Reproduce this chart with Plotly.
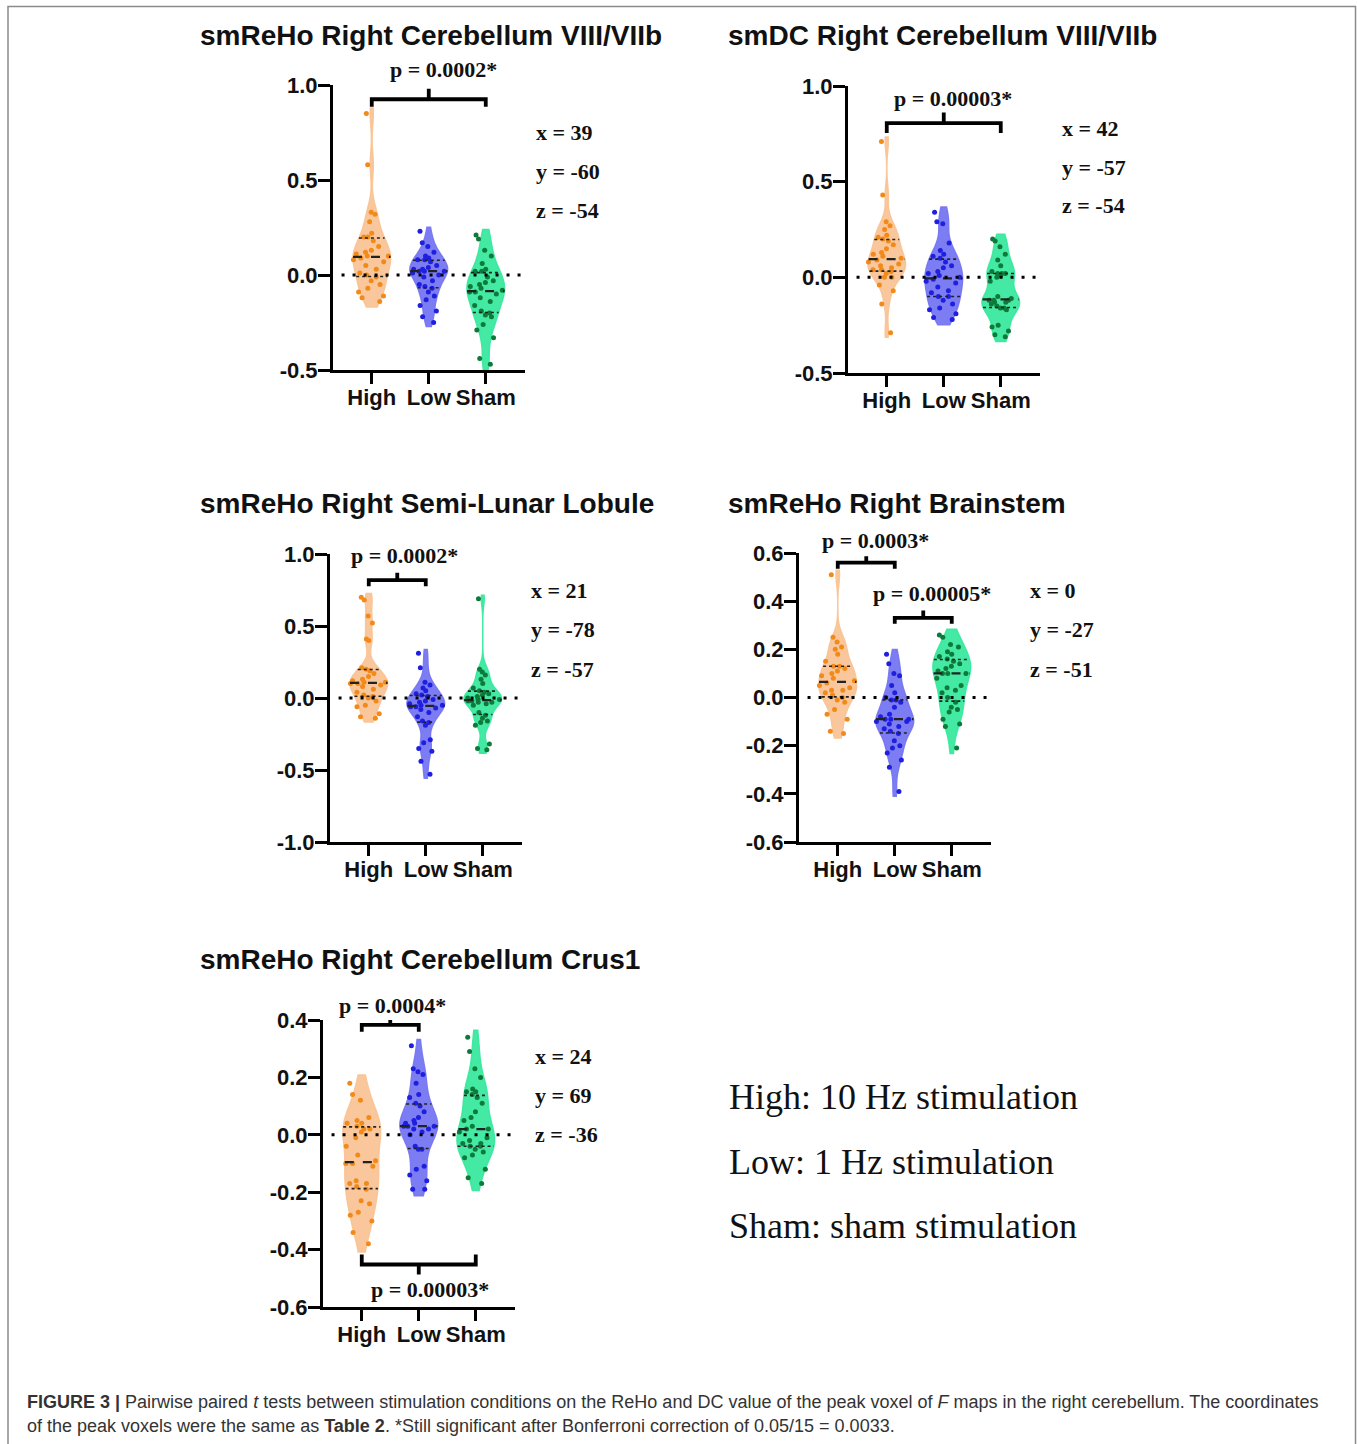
import numpy as np
import plotly.graph_objects as go

W, H = 1357, 1444

groups = ["High", "Low", "Sham"]

# ---------------- data ----------------
p1_high = [0.85, 0.58, 0.33, 0.32, 0.28, 0.22, 0.20, 0.20, 0.18, 0.15, 0.13, 0.12, 0.11, 0.10, 0.10,
           0.09, 0.08, 0.07, 0.05, 0.03, 0.01, 0.00, -0.01, -0.03, -0.05, -0.07, -0.09, -0.11, -0.12, -0.14]
p1_low = [0.23, 0.17, 0.15, 0.12, 0.10, 0.09, 0.08, 0.08, 0.07, 0.05, 0.04, 0.03, 0.03, 0.02, 0.02,
          0.02, 0.01, 0.00, -0.01, -0.03, -0.05, -0.06, -0.07, -0.09, -0.11, -0.13, -0.16, -0.19, -0.22, -0.25]
p1_sham = [0.21, 0.19, 0.13, 0.10, 0.06, 0.03, 0.02, 0.02, -0.01, -0.03, -0.04, -0.05, -0.06, -0.07, -0.08,
           -0.09, -0.09, -0.10, -0.12, -0.14, -0.16, -0.19, -0.20, -0.21, -0.22, -0.26, -0.29, -0.33, -0.44, -0.47]

p2_high = [0.71, 0.43, 0.29, 0.27, 0.25, 0.22, 0.21, 0.20, 0.19, 0.17, 0.15, 0.13, 0.12, 0.11, 0.10,
           0.09, 0.08, 0.07, 0.06, 0.05, 0.04, 0.04, 0.03, 0.02, 0.00, 0.00, -0.04, -0.07, -0.14, -0.29]
p2_low = [0.34, 0.29, 0.28, 0.18, 0.14, 0.12, 0.11, 0.10, 0.08, 0.06, 0.05, 0.03, 0.02, 0.01, 0.00,
          -0.01, -0.02, -0.03, -0.05, -0.07, -0.08, -0.10, -0.10, -0.12, -0.14, -0.16, -0.17, -0.19, -0.21, -0.22]
p2_sham = [0.20, 0.19, 0.16, 0.12, 0.09, 0.06, 0.03, 0.02, 0.02, 0.02, 0.01, 0.00, -0.02, -0.10, -0.11,
           -0.12, -0.12, -0.12, -0.13, -0.13, -0.14, -0.15, -0.16, -0.16, -0.17, -0.25, -0.26, -0.28, -0.30, -0.31]

p3_high = [0.70, 0.68, 0.57, 0.52, 0.41, 0.40, 0.21, 0.20, 0.19, 0.17, 0.15, 0.13, 0.12, 0.11, 0.11,
           0.10, 0.10, 0.09, 0.08, 0.06, 0.04, 0.02, 0.01, 0.00, -0.02, -0.05, -0.06, -0.11, -0.13, -0.14]
p3_low = [0.31, 0.21, 0.11, 0.09, 0.07, 0.05, 0.03, 0.02, 0.01, -0.01, -0.02, -0.03, -0.04, -0.05, -0.05,
          -0.06, -0.06, -0.07, -0.08, -0.10, -0.13, -0.16, -0.17, -0.19, -0.29, -0.31, -0.35, -0.37, -0.44, -0.53]
p3_sham = [0.69, 0.20, 0.18, 0.16, 0.13, 0.10, 0.07, 0.05, 0.04, 0.03, 0.02, 0.01, 0.00, -0.01, -0.01,
           -0.02, -0.02, -0.03, -0.03, -0.04, -0.05, -0.10, -0.12, -0.14, -0.16, -0.17, -0.19, -0.32, -0.35, -0.36]

p4_high = [0.51, 0.25, 0.23, 0.21, 0.20, 0.18, 0.15, 0.13, 0.13, 0.12, 0.11, 0.10, 0.09, 0.08, 0.07,
           0.06, 0.05, 0.04, 0.03, 0.03, 0.02, 0.01, 0.00, -0.01, -0.02, -0.05, -0.07, -0.09, -0.14, -0.15]
p4_low = [0.18, 0.14, 0.10, 0.09, 0.05, 0.02, 0.00, -0.01, -0.01, -0.02, -0.04, -0.07, -0.08, -0.09, -0.09,
          -0.09, -0.10, -0.10, -0.11, -0.12, -0.13, -0.14, -0.15, -0.18, -0.20, -0.21, -0.23, -0.26, -0.29, -0.39]
p4_sham = [0.26, 0.25, 0.22, 0.21, 0.19, 0.18, 0.17, 0.16, 0.15, 0.14, 0.13, 0.12, 0.11, 0.10, 0.10,
           0.10, 0.08, 0.05, 0.04, 0.03, 0.02, 0.00, -0.02, -0.04, -0.05, -0.06, -0.09, -0.11, -0.12, -0.21]

p5_high = [0.18, 0.14, 0.12, 0.06, 0.05, 0.04, 0.04, 0.03, 0.02, 0.02, 0.01, -0.01, -0.04, -0.07, -0.09,
           -0.10, -0.10, -0.11, -0.16, -0.17, -0.17, -0.18, -0.19, -0.23, -0.24, -0.27, -0.28, -0.30, -0.34, -0.38]
p5_low = [0.31, 0.23, 0.22, 0.21, 0.18, 0.14, 0.13, 0.11, 0.10, 0.08, 0.06, 0.05, 0.04, 0.04, 0.03,
          0.03, 0.03, 0.02, 0.02, 0.01, 0.00, -0.04, -0.05, -0.05, -0.11, -0.12, -0.14, -0.16, -0.19, -0.19]
p5_sham = [0.34, 0.29, 0.23, 0.20, 0.16, 0.15, 0.15, 0.14, 0.13, 0.11, 0.08, 0.06, 0.05, 0.03, 0.02,
           0.02, 0.01, -0.01, -0.02, -0.03, -0.03, -0.04, -0.04, -0.05, -0.06, -0.07, -0.08, -0.12, -0.15, -0.17]

titles = ["smReHo Right Cerebellum VIII/VIIb", "smDC Right Cerebellum VIII/VIIb",
          "smReHo Right Semi-Lunar Lobule", "smReHo Right Brainstem", "smReHo Right Cerebellum Crus1"]
panel_data = [[p1_high, p1_low, p1_sham], [p2_high, p2_low, p2_sham], [p3_high, p3_low, p3_sham],
              [p4_high, p4_low, p4_sham], [p5_high, p5_low, p5_sham]]
y_ranges = [[-0.5, 1.0], [-0.5, 1.0], [-1.0, 1.0], [-0.6, 0.6], [-0.6, 0.4]]
y_ticks = [[-0.5, 0.0, 0.5, 1.0], [-0.5, 0.0, 0.5, 1.0], [-1.0, -0.5, 0.0, 0.5, 1.0],
           [-0.6, -0.4, -0.2, 0.0, 0.2, 0.4, 0.6], [-0.6, -0.4, -0.2, 0.0, 0.2, 0.4]]
coords = [["x = 39", "y = -60", "z = -54"], ["x = 42", "y = -57", "z = -54"],
          ["x = 21", "y = -78", "z = -57"], ["x = 0", "y = -27", "z = -51"],
          ["x = 24", "y = 69", "z = -36"]]
# comparisons: (group a, group b, label)
comparisons = [[(0, 2, "p = 0.0002*")], [(0, 2, "p = 0.00003*")], [(0, 1, "p = 0.0002*")],
               [(0, 1, "p = 0.0003*"), (1, 2, "p = 0.00005*")],
               [(0, 1, "p = 0.0004*"), (0, 2, "p = 0.00003*")]]
legend_lines = ["High: 10 Hz stimulation", "Low: 1 Hz stimulation", "Sham: sham stimulation"]

# ---------------- layout / styling ----------------
# pixel boxes: (left, top, bottom) of each plot area
boxes = [(333, 85, 370), (848, 86, 373), (330, 554, 842), (799, 553, 842), (323, 1020, 1307)]
CAT_PX = 57.0
XR = [-0.68, 2.68]
title_pos = [(198, 36), (726, 36), (198, 503), (726, 503), (198, 959)]
coord_pos = [(534, 132), (1060, 128), (529, 591), (1028, 591), (533, 1056)]
COORD_STEP = 39
# bracket geometry per comparison: (bar y, end y, nub y, label x, label y) in data units
bracket_geo = [[(0.925, 0.886, 0.98, 1.26, 1.08)],
               [(0.806, 0.754, 0.862, 1.165, 0.937)],
               [(0.818, 0.776, 0.869, 0.63, 0.993)],
               [(0.56, 0.535, 0.586, 0.66, 0.653), (0.331, 0.306, 0.361, 1.66, 0.431)],
               [(0.383, 0.359, 0.402, 0.54, 0.452), (-0.452, -0.417, -0.487, 1.19, -0.539)]]

FILL = ["rgba(249,196,150,0.95)", "rgba(118,118,242,0.95)", "rgba(58,232,158,0.95)"]
PT = ["#F28A1A", "#1F1FE0", "#0D7A3A"]
VW = 0.66
JIT = 1.0
BW_FACTOR = 0.8
SPAN_PAD = 0.45  # violin tails extend this many bandwidths past the extreme points

SANS = "Liberation Sans, Arial, sans-serif"
SERIF = "Liberation Serif, Times New Roman, serif"


def silverman(vals):
    v = np.asarray(vals, float)
    q1, q3 = np.percentile(v, [25, 75])
    ssd = v.std(ddof=1)
    return BW_FACTOR * 1.059 * min(ssd, (q3 - q1) / 1.349) * len(v) ** -0.2


def kde(vals, bw, t):
    v = np.asarray(vals, float)[:, None]
    t = np.atleast_1d(np.asarray(t, float))[None, :]
    return np.exp(-0.5 * ((t - v) / bw) ** 2).sum(0) / (len(vals) * bw * np.sqrt(2 * np.pi))


def max_kde(vals, bw, span):
    lo, hi = span
    n = int(np.ceil((hi - lo) / (bw / 3)))
    grid = np.linspace(lo, hi, n + 1)
    return kde(vals, bw, grid).max()


fig = go.Figure()
layout = dict(width=W, height=H, margin=dict(l=0, r=0, t=0, b=0, pad=0, autoexpand=False),
              paper_bgcolor="white", plot_bgcolor="white", showlegend=False,
              violinmode="overlay")
annotations = []
shapes = []

for pi in range(5):
    sfx = "" if pi == 0 else str(pi + 1)
    xr, yr = "x" + sfx, "y" + sfx
    left, top, bottom = boxes[pi]
    right = left + (XR[1] - XR[0]) * CAT_PX
    y0, y1 = y_ranges[pi]
    layout["xaxis" + sfx] = dict(
        domain=[left / W, right / W], range=XR, anchor=yr, type="linear", automargin=False,
        tickvals=[0, 1, 2], ticktext=groups, showgrid=False, zeroline=False,
        showline=True, linecolor="black", linewidth=3, ticks="outside", ticklen=11,
        tickwidth=3, tickcolor="black", ticklabelstandoff=-5,
        tickfont=dict(family=SANS, size=22, color="#111", weight="bold"), fixedrange=True)
    layout["yaxis" + sfx] = dict(
        domain=[1 - bottom / H, 1 - top / H], range=y_ranges[pi], anchor=xr, automargin=False,
        tickvals=y_ticks[pi], ticktext=[f"{v:.1f}" for v in y_ticks[pi]],
        showgrid=False, zeroline=False, showline=True, linecolor="black", linewidth=3,
        ticks="outside", ticklen=12, tickwidth=3, tickcolor="black", ticklabelstandoff=-4,
        tickfont=dict(family=SANS, size=22, color="#111", weight="bold"), fixedrange=True)

    # zero reference line
    shapes.append(dict(type="line", xref=xr, yref=yr, x0=XR[0] + 0.15, x1=XR[1], y0=0, y1=0,
                       line=dict(color="black", width=3, dash="3px,8px"), layer="above"))

    for gi, vals in enumerate(panel_data[pi]):
        bw = silverman(vals)
        span = [min(vals) - SPAN_PAD * bw, max(vals) + SPAN_PAD * bw]
        fig.add_trace(go.Violin(
            y=vals, x0=gi, xaxis=xr, yaxis=yr, width=VW, scalemode="width", spanmode="manual",
            span=span, bandwidth=bw, points="all", pointpos=0, jitter=JIT,
            fillcolor=FILL[gi], line=dict(color=FILL[gi], width=1.5),
            marker=dict(size=5, color=PT[gi], line=dict(width=0)),
            box_visible=False, meanline_visible=False, hoverinfo="skip", name=groups[gi]))
        mk = max_kde(vals, bw, span)
        q1, med, q3 = np.percentile(vals, [25, 50, 75])
        for q, dash, lw in [(q1, "dot", 1.6), (med, "dash", 2.2), (q3, "dot", 1.6)]:
            hw = kde(vals, bw, q)[0] / mk * VW / 2
            fig.add_trace(go.Scatter(x=[gi - hw, gi + hw], y=[q, q], xaxis=xr, yaxis=yr,
                                     mode="lines", line=dict(color="#222", width=lw, dash=dash),
                                     hoverinfo="skip"))

    for (a, b, label), (ybar, yend, ynub, lx, ly) in zip(comparisons[pi], bracket_geo[pi]):
        xm = (a + b) / 2
        fig.add_trace(go.Scatter(x=[a, a, xm, xm, xm, b, b], y=[yend, ybar, ybar, ynub, ybar, ybar, yend],
                                 xaxis=xr, yaxis=yr, mode="lines",
                                 line=dict(color="black", width=3.8), hoverinfo="skip"))
        annotations.append(dict(x=lx, y=(ly - y0) / (y1 - y0), xref=xr, yref=yr + " domain",
                                xanchor="center", yanchor="middle",
                                text=label, showarrow=False,
                                font=dict(family=SERIF, size=22, color="#111", weight="bold")))

    tx, ty = title_pos[pi]
    annotations.append(dict(x=tx / W, y=1 - ty / H, xref="paper", yref="paper", text=titles[pi],
                            xanchor="left", yanchor="middle", showarrow=False,
                            font=dict(family=SANS, size=28, color="#111", weight="bold")))
    cx, cy = coord_pos[pi]
    for k, c in enumerate(coords[pi]):
        annotations.append(dict(x=cx / W, y=1 - (cy + k * COORD_STEP) / H, xref="paper", yref="paper",
                                text=c, xanchor="left", yanchor="middle", showarrow=False,
                                font=dict(family=SERIF, size=22, color="#111", weight="bold")))

for k, t in enumerate(legend_lines):
    annotations.append(dict(x=727 / W, y=1 - (1097 + k * 64.5) / H, xref="paper", yref="paper",
                            text=t, xanchor="left", yanchor="middle", showarrow=False,
                            font=dict(family=SERIF, size=36, color="#111")))

cap1 = ("<b>FIGURE 3 |</b> Pairwise paired <i>t</i> tests between stimulation conditions on the ReHo and DC "
        "value of the peak voxel of <i>F</i> maps in the right cerebellum. The coordinates")
cap2 = ("of the peak voxels were the same as <b>Table 2</b>. *Still significant after Bonferroni "
        "correction of 0.05/15 = 0.0033.")
for k, c in enumerate([cap1, cap2]):
    annotations.append(dict(x=25 / W, y=1 - (1402 + k * 24) / H, xref="paper", yref="paper",
                            text=c, xanchor="left", yanchor="middle", showarrow=False,
                            font=dict(family="Liberation Sans Narrow, Liberation Sans, Arial", size=18,
                                      color="#333")))

shapes.append(dict(type="rect", xref="paper", yref="paper", x0=8 / W, x1=1355.5 / W,
                   y0=-0.01, y1=1 - 6.5 / H, line=dict(color="#8a8a8a", width=1.5)))

layout["annotations"] = annotations
layout["shapes"] = shapes
fig.update_layout(**layout)
fig.write_html("out.html", config={"displayModeBar": False},
               post_script="document.body.style.margin='0';")
